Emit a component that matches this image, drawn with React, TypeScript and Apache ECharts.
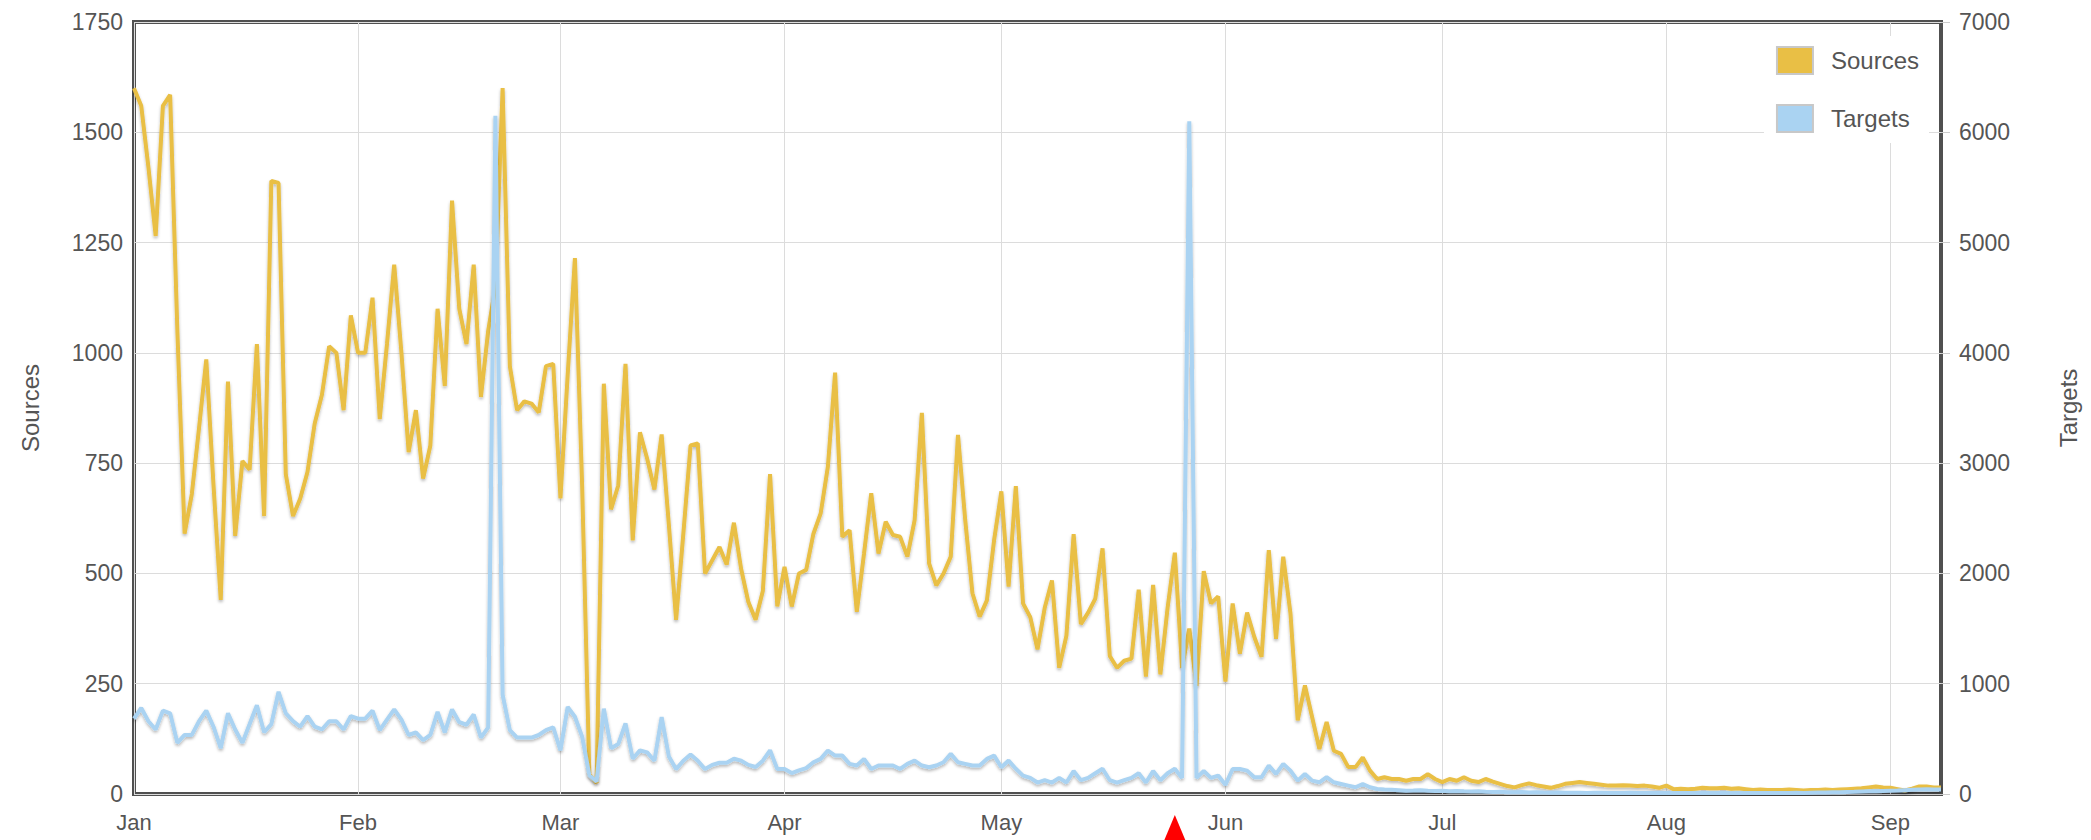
import React, { useEffect, useRef } from "react";
import * as echarts from "echarts";

// Daily values starting 2013-01-01
const sources: number[] = [
  1600, 1560, 1420, 1265, 1560, 1585, 1050, 590, 680, 830,
  985, 700, 440, 935, 585, 755, 735, 1020, 630, 1390,
  1385, 725, 630, 670, 730, 840, 905, 1015, 1000, 870,
  1085, 1000, 1000, 1125, 850, 1020, 1200, 1000, 775, 870,
  715, 790, 1100, 925, 1345, 1100, 1020, 1200, 900, 1050,
  1150, 1600, 970, 870, 890, 885, 865, 970, 975, 670,
  950, 1215, 700, 45, 25, 930, 645, 700, 975, 575,
  820, 760, 690, 815, 610, 395, 590, 790, 795, 500,
  530, 560, 520, 615, 510, 435, 395, 460, 725, 425,
  515, 425, 500, 508, 590, 636, 742, 955, 583, 598,
  413, 545, 682, 545, 617, 587, 583, 538, 621, 864,
  523, 473, 500, 538, 814, 621, 455, 402, 439, 576,
  686, 470, 698, 432, 401, 328, 422, 484, 286, 359,
  589, 385, 411, 443, 557, 313, 286, 302, 307, 463,
  266, 474, 271, 422, 547, 286, 375, 245, 505, 432,
  448, 255, 432, 318, 411, 356, 311, 553, 352, 538,
  409, 167, 246, 174, 102, 163, 98, 91, 61, 61,
  83, 53, 34, 38, 34, 34, 30, 34, 34, 45,
  34, 27, 34, 30, 38, 30, 27, 34, 28, 23,
  18, 15, 20, 24, 20, 17, 14, 18, 23, 25,
  27, 25, 23, 21, 19, 19, 20, 19, 18, 19,
  17, 14, 19, 11, 12, 11, 12, 14, 13, 13,
  14, 12, 13, 11, 9, 10, 9, 9, 9, 10,
  9, 8, 9, 9, 10, 9, 10, 11, 12, 13,
  15, 17, 15, 14, 11, 8, 12, 17, 17, 15,
  15,
];

const targets: number[] = [
  683, 780, 660, 585, 756, 732, 464, 536, 536, 660,
  756, 610, 415, 732, 585, 464, 634, 805, 560, 634,
  927, 732, 660, 610, 707, 610, 585, 660, 660, 585,
  707, 683, 683, 756, 580, 675, 767, 675, 535, 558,
  488, 535, 744, 558, 767, 651, 628, 721, 512, 605,
  6150, 900, 580, 512, 512, 512, 535, 580, 605, 395,
  790, 700, 520, 170, 113, 774, 415, 453, 641, 320,
  396, 377, 302, 698, 340, 226, 302, 358, 302, 226,
  264, 283, 283, 320, 302, 264, 245, 302, 396, 226,
  226, 190, 215, 235, 288, 318, 394, 348, 348, 273,
  258, 318, 227, 258, 258, 258, 227, 273, 303, 258,
  242, 258, 288, 364, 288, 273, 258, 258, 318, 348,
  242, 303, 229, 167, 146, 104, 125, 104, 146, 104,
  208, 125, 146, 188, 229, 125, 104, 125, 146, 188,
  104, 208, 125, 188, 229, 146, 6100, 146, 208, 146,
  167, 83, 227, 227, 212, 152, 152, 258, 182, 273,
  212, 121, 182, 121, 106, 152, 106, 91, 76, 61,
  91, 61, 45, 40, 38, 35, 30, 32, 35, 30,
  28, 30, 25, 28, 24, 22, 25, 20, 18, 20,
  16, 15, 18, 14, 15, 13, 12, 14, 12, 11,
  12, 10, 11, 12, 10, 9, 10, 11, 9, 10,
  9, 8, 10, 9, 8, 9, 10, 9, 8, 9,
  8, 9, 10, 9, 8, 9, 9, 10, 9, 10,
  11, 10, 12, 13, 14, 15, 16, 18, 20, 22,
  24, 25, 28, 30, 32, 35, 38, 40, 42, 40,
  40,
];

const monthNames = ["Jan", "Feb", "Mar", "Apr", "May", "Jun", "Jul", "Aug", "Sep", "Oct", "Nov", "Dec"];
const startUTC = Date.UTC(2013, 0, 1);
const dates: string[] = sources.map((_, i) => {
  const d = new Date(startUTC + i * 86400000);
  return `${d.getUTCFullYear()}-${String(d.getUTCMonth() + 1).padStart(2, "0")}-${String(d.getUTCDate()).padStart(2, "0")}`;
});
const markerDate = "2013-05-25";

const leftTicks = { min: 0, max: 1750, interval: 250 };
const rightTicks = { min: 0, max: 7000, interval: 1000 };

const FONT = "Arial, 'Liberation Sans', sans-serif";
const TEXT = "#555";
const isMonthStart = (i: number) => !!dates[i] && dates[i].endsWith("-01");

export default function App() {
  const ref = useRef<HTMLDivElement>(null);
  useEffect(() => {
    if (!ref.current) return;
    const chart = echarts.init(ref.current, null, { renderer: "svg" });
    const lineShadow = {
      shadowColor: "rgba(0,0,0,0.28)",
      shadowBlur: 3,
      shadowOffsetY: 2,
    };
    chart.setOption({
      animation: false,
      backgroundColor: "#fff",
      textStyle: { fontFamily: FONT },
      grid: {
        left: 134,
        right: 150,
        top: 22,
        bottom: 46,
        show: true,
        borderColor: "#505050",
        borderWidth: 4,
        backgroundColor: "transparent",
      },
      legend: {
        orient: "vertical",
        right: 162,
        top: 36,
        padding: [10, 10, 10, 12],
        backgroundColor: "#fff",
        itemWidth: 36,
        itemHeight: 27,
        itemGap: 29,
        icon: "rect",
        itemStyle: { borderColor: "#c8c8c8", borderWidth: 2 },
        textStyle: { fontSize: 24, color: TEXT, fontFamily: FONT, padding: [0, 0, 0, 13] },
        data: ["Sources", "Targets"],
      },
      xAxis: {
        type: "category",
        data: dates,
        boundaryGap: false,
        axisLine: { show: false },
        axisTick: { show: false },
        axisLabel: {
          interval: (i: number) => isMonthStart(i),
          formatter: (v: string) => monthNames[Number(v.slice(5, 7)) - 1],
          fontSize: 22,
          color: TEXT,
          margin: 17,
          fontFamily: FONT,
        },
        splitLine: {
          show: true,
          interval: (i: number) => isMonthStart(i),
          lineStyle: { color: "#dcdcdc", width: 1 },
        },
      },
      yAxis: [
        {
          type: "value",
          ...leftTicks,
          name: "Sources",
          nameLocation: "middle",
          nameRotate: 90,
          nameGap: 92,
          nameTextStyle: { fontSize: 24, color: TEXT, fontFamily: FONT },
          axisLine: { show: false },
          axisTick: { show: false },
          axisLabel: { fontSize: 23, color: TEXT, margin: 11, fontFamily: FONT, formatter: (v: number) => String(v) },
          splitLine: { show: true, lineStyle: { color: "#dcdcdc", width: 1 } },
        },
        {
          type: "value",
          ...rightTicks,
          position: "right",
          name: "Targets",
          nameLocation: "middle",
          nameRotate: 90,
          nameGap: 115,
          nameTextStyle: { fontSize: 24, color: TEXT, fontFamily: FONT },
          axisLine: { show: false },
          axisTick: { show: true, length: 9, lineStyle: { color: "#ccc" } },
          axisLabel: { fontSize: 23, color: TEXT, margin: 18, fontFamily: FONT, formatter: (v: number) => String(v) },
          splitLine: { show: false },
        },
      ],
      series: [
        {
          name: "Sources",
          type: "line",
          yAxisIndex: 0,
          data: sources,
          showSymbol: false,
          symbol: "none",
          color: "#E9BF45",
          lineStyle: { color: "#E9BF45", width: 4, ...lineShadow },
          z: 2,
        },
        {
          name: "Targets",
          type: "line",
          yAxisIndex: 1,
          data: targets,
          showSymbol: false,
          symbol: "none",
          color: "#AAD3F2",
          lineStyle: { color: "#AAD3F2", width: 4, ...lineShadow },
          z: 3,
        },
      ],
    });
    const px = chart.convertToPixel({ xAxisIndex: 0 }, markerDate) as number;
    chart.setOption({
      graphic: [
        {
          type: "polygon",
          shape: { points: [[px, 815], [px - 13, 846], [px + 13, 846]] },
          style: { fill: "#ff0000" },
          z: 10,
        },
      ],
    });
    return () => chart.dispose();
  }, []);
  return (
    <div
      ref={ref}
      style={{ position: "fixed", left: 0, top: 0, width: 2091, height: 840, background: "#fff" }}
    />
  );
}
